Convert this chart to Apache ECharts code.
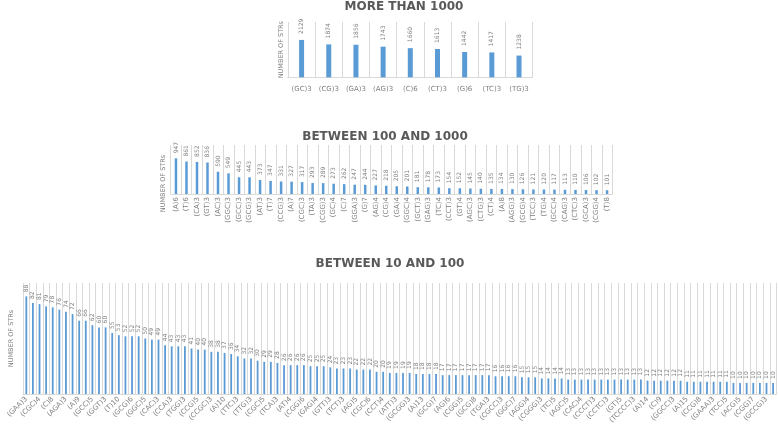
<!DOCTYPE html>
<html>
<head>
<meta charset="utf-8">
<script src="https://cdn.jsdelivr.net/npm/echarts@6/dist/echarts.min.js"></script>
<style>
html,body{margin:0;padding:0;background:#ffffff;}
#c{width:778px;height:435px;}
</style>
</head>
<body>
<div id="c"></div>
<script>
// ---------- DATA ----------
const topTitle = 'MORE THAN 1000';
const topCategories = ['(GC)3','(CG)3','(GA)3','(AG)3','(C)6','(CT)3','(G)6','(TC)3','(TG)3'];
const topValues = [2129,1874,1856,1743,1660,1613,1442,1417,1238];

const midTitle = 'BETWEEN 100 AND 1000';
const midCategories = ['(A)6','(T)6','(CA)3','(GT)3','(AC)3','(GGC)3','(GCC)3','(GCG)3','(AT)3','(T)7',
  '(CCG)3','(A)7','(CGC)3','(TA)3','(CGG)3','(GC)4','(C)7','(GGA)3','(G)7','(AG)4',
  '(CG)4','(GA)4','(GGC)4','(GCT)3','(GAG)3','(TC)4','(CCT)3','(GT)4','(AGC)3','(CTG)3',
  '(CT)4','(A)8','(AGG)3','(GCG)4','(TCC)3','(TG)4','(GCC)4','(CAG)3','(CTC)3','(GCA)3',
  '(CGG)4','(T)8'];
const midValues = [947,861,852,836,590,549,445,443,373,347,
  331,327,317,293,289,273,262,247,244,227,
  218,205,201,181,178,173,154,152,145,140,
  135,134,130,126,121,120,117,113,110,106,
  102,101];

const lowTitle = 'BETWEEN 10 AND 100';
// labelled categories (every other bar carries a label in the reference)
const lowLabelled = ['(GAA)3','(CGC)4','(C)8','(AGA)3','(A)9','(GCC)5','(GGT)3','(T)10','(GCG)6','(GGC)5',
  '(CAC)3','(CCA)3','(TGG)3','(CCG)5','(CCGC)3','(A)10','(TTC)3','(TTG)3','(CGC)5','(TCA)3',
  '(AT)4','(CGG)6','(GAG)4','(GTT)3','(TCT)3','(AG)5','(CGC)6','(CCT)4','(ATT)3','(GCGG)3',
  '(A)13','(GCG)7','(AG)6','(CGG)5','(GCG)8','(TGA)3','(CGCC)3','(GGC)7','(AGG)4','(CGGG)3',
  '(TC)5','(AGC)5','(CAC)4','(CCCT)3','(CCTC)3','(GT)5','(TCCCC)3','(A)14','(C)9','(GGCC)3',
  '(A)15','(CCG)8','(GAAA)3','(TCC)5','(ACG)5','(CGG)7','(GCCG)3'];
const lowValues = [88,82,81,79,78,76,74,72,66,66,
  62,60,60,55,53,52,52,52,50,49,
  49,44,43,43,43,41,40,40,38,38,
  37,36,34,32,32,30,29,29,28,26,
  26,26,26,25,25,25,24,23,23,23,
  22,22,22,20,20,19,19,19,19,18,
  18,18,18,17,17,17,17,17,17,17,
  17,16,16,16,16,15,15,15,14,14,
  14,14,13,13,13,13,13,13,13,13,
  13,13,13,13,12,12,12,12,12,12,
  11,11,11,11,11,11,11,10,10,10,
  10,10,10,10];
const lowCategories = lowValues.map((v, i) => (i % 2 === 0 ? (lowLabelled[i / 2] || '') : ''));

const yName = 'NUMBER OF STRs';

// ---------- STYLE ----------
const FONT = 'DejaVu Sans';
const TITLE_C = '#595959';
const TEXT_C = '#7f7f7f';
const BAR_C = '#5B9BD5';
const LINE_C = '#d9d9d9';

function makeX(gi, data, label) {
  return {
    type: 'category', gridIndex: gi, data: data,
    boundaryGap: true,
    axisTick: { show: false },
    axisLine: { show: true, lineStyle: { color: LINE_C, width: 1 } },
    splitLine: { show: true, interval: 0, lineStyle: { color: LINE_C, width: 1 } },
    axisLabel: Object.assign({ interval: 0, fontSize: 7, color: TEXT_C, fontFamily: FONT }, label)
  };
}
function makeY(gi, max, gap, shiftDown) {
  return {
    type: 'value', gridIndex: gi, min: 0, max: max,
    name: yName, nameLocation: 'middle', nameGap: gap, nameRotate: 90,
    nameTextStyle: { fontSize: 6.5, color: TEXT_C, fontFamily: FONT,
      padding: [0, shiftDown * 2, 0, 0] },
    axisLabel: { show: false }, axisTick: { show: false },
    axisLine: { show: false }, splitLine: { show: false }
  };
}
function makeSeries(i, data, bw, dist) {
  return {
    type: 'bar', xAxisIndex: i, yAxisIndex: i, data: data, barWidth: bw,
    itemStyle: { color: BAR_C },
    label: {
      show: true, position: 'top', rotate: 90, align: 'left', verticalAlign: 'middle',
      distance: dist, fontSize: 6, color: TEXT_C, fontFamily: FONT
    }
  };
}
function makeTitle(text, cx, top) {
  return {
    text: text, left: cx, top: top, textAlign: 'center', padding: 0,
    textStyle: { fontSize: 12, fontWeight: 'bold', color: TITLE_C, fontFamily: FONT }
  };
}

const chart = echarts.init(document.getElementById('c'), null, { renderer: 'canvas' });
chart.setOption({
  backgroundColor: '#ffffff',
  animation: false,
  title: [
    makeTitle(topTitle, 404, 1),
    makeTitle(midTitle, 385, 131),
    makeTitle(lowTitle, 390, 258)
  ],
  grid: [
    { left: 288, width: 244.6, top: 22, height: 55.3 },
    { left: 170.7, width: 441.6, top: 145, height: 49 },
    { left: 19.4, width: 757, top: 283, height: 111 }
  ],
  xAxis: [
    makeX(0, topCategories, { margin: 8 }),
    makeX(1, midCategories, { rotate: 90, margin: 3 }),
    makeX(2, lowCategories, { rotate: 45, margin: 4 })
  ],
  yAxis: [
    makeY(0, 3150, 3, 0),
    makeY(1, 1300, 4, 14),
    makeY(2, 100, 8, 0)
  ],
  series: [
    makeSeries(0, topValues, 5, 6),
    makeSeries(1, midValues, 2.5, 5),
    makeSeries(2, lowValues, 1.8, 4)
  ]
});
</script>
</body>
</html>
